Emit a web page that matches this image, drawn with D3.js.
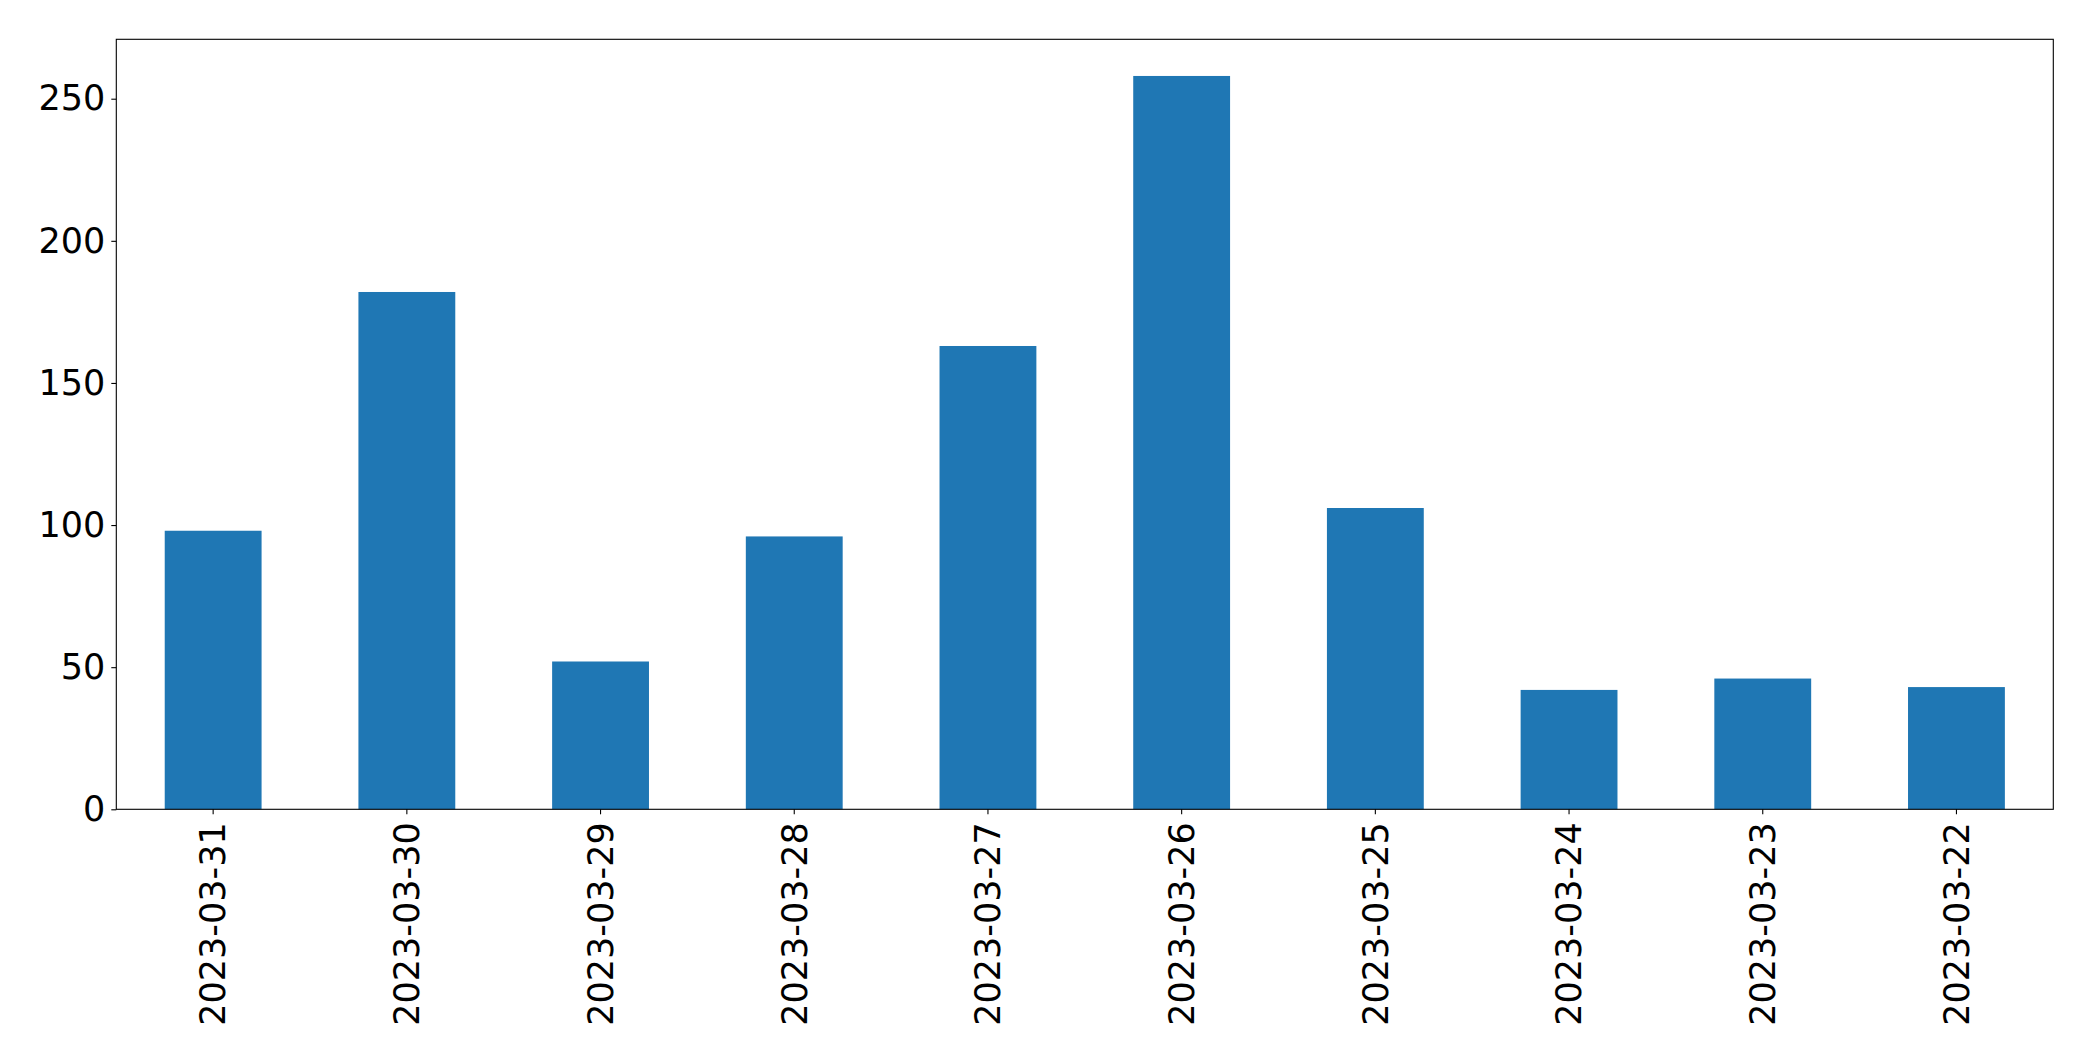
<!DOCTYPE html>
<html>
<head>
<meta charset="utf-8">
<script src="https://cdn.jsdelivr.net/npm/d3@7"></script>
<style>
html,body{margin:0;padding:0;background:#fff;}
svg{display:block;}
text{font-family:"DejaVu Sans",sans-serif;fill:#000;}
</style>
</head>
<body>
<svg id="chart" width="2093" height="1061"></svg>
<script>
const categories = ["2023-03-31","2023-03-30","2023-03-29","2023-03-28","2023-03-27","2023-03-26","2023-03-25","2023-03-24","2023-03-23","2023-03-22"];
const values = [98,182,52,96,163,258,106,42,46,43];
const yTicks = [0,50,100,150,200,250];

const W = 2093, H = 1061;
const m = {left:116.3, right:2053.3, top:39.3, bottom:809.3};
const svg = d3.select("#chart");

const x = d3.scaleBand().domain(categories).range([m.left, m.right]).paddingInner(0.5).paddingOuter(0.25);
const y = d3.scaleLinear().domain([0, d3.max(values)*1.05]).range([m.bottom, m.top]);

svg.append("g").selectAll("rect").data(values).join("rect")
  .attr("x", (d,i)=>x(categories[i]))
  .attr("width", x.bandwidth())
  .attr("y", d=>y(d))
  .attr("height", d=>y(0)-y(d))
  .attr("fill", "#1f77b4");

const fs = 35;
const yAxis = svg.append("g").attr("transform",`translate(${m.left},0)`)
  .call(d3.axisLeft(y).tickValues(yTicks).tickSize(5).tickPadding(6).tickFormat(d3.format("d")));
yAxis.select(".domain").remove();
yAxis.selectAll("line").attr("stroke","#000").attr("stroke-width",1.1);
yAxis.selectAll("text").attr("font-size",fs).attr("fill","#000").attr("font-family","DejaVu Sans");

const xAxis = svg.append("g").attr("transform",`translate(0,${m.bottom})`)
  .call(d3.axisBottom(x).tickSize(5).tickPadding(6));
xAxis.select(".domain").remove();
xAxis.selectAll("line").attr("stroke","#000").attr("stroke-width",1.1);
xAxis.selectAll("text")
  .attr("font-size",fs).attr("fill","#000").attr("font-family","DejaVu Sans")
  .attr("text-anchor","end")
  .attr("dy","0.35em")
  .attr("transform","translate(0,13) rotate(-90)")
  .attr("x",0).attr("y",0);

svg.append("rect")
  .attr("x", m.left).attr("y", m.top)
  .attr("width", m.right-m.left).attr("height", m.bottom-m.top)
  .attr("fill","none").attr("stroke","#000").attr("stroke-width",1.1);
</script>
</body>
</html>
